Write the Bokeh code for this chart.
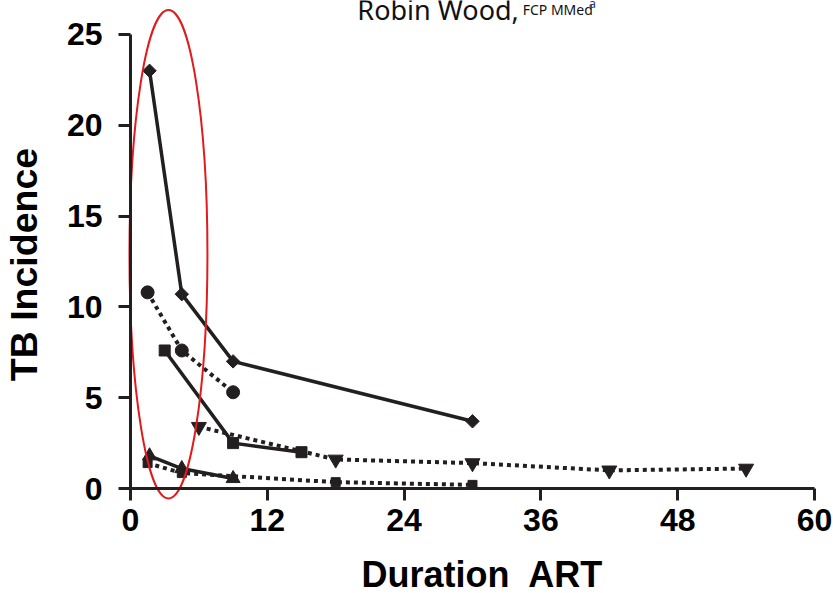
import math
from bokeh.plotting import figure
from bokeh.models import Range1d, Label, FixedTicker
from bokeh.embed import file_html
from bokeh.resources import INLINE

# ---- data ----
dia_x = [1.67, 4.5, 9, 30]
dia_y = [23.0, 10.7, 7.0, 3.7]
cir_x = [1.5, 4.5, 9]
cir_y = [10.8, 7.6, 5.3]
sq_x = [3, 9, 15]
sq_y = [7.6, 2.5, 2.0]
tdn_x = [6, 18, 30, 42, 54]
tdn_y = [3.4, 1.6, 1.4, 1.0, 1.1]
tup_x = [1.67, 4.5, 9]
tup_y = [1.8, 1.1, 0.55]
sqd_x = [1.5, 4.5, 18, 30]
sqd_y = [1.4, 0.85, 0.35, 0.2]

x_ticks = [0, 12, 24, 36, 48, 60]
y_ticks = [0, 5, 10, 15, 20, 25]

x_title = "Duration\u00a0 ART"
y_title = "TB Incidence"

# highlight ellipse (data units)
ell_cx, ell_cy, ell_w, ell_h = 3.33, 12.9, 6.84, 26.9

INK = "#231f20"
RED = "#e3191c"

p = figure(width=833, height=593, output_backend="svg", toolbar_location=None,
           x_range=Range1d(-11.4035, 61.667), y_range=Range1d(-5.78, 26.87),
           min_border_left=0, min_border_right=0, min_border_top=0,
           min_border_bottom=0)
p.outline_line_color = None
p.grid.visible = False
p.background_fill_color = "white"
p.border_fill_color = "white"

for ax in (p.xaxis[0], p.yaxis[0]):
    ax.axis_line_width = 3
    ax.axis_line_color = INK
    ax.major_tick_line_width = 3
    ax.major_tick_line_color = INK
    ax.major_tick_out = 12
    ax.major_tick_in = 0
    ax.minor_tick_line_color = None
    ax.major_label_text_font = "Liberation Sans"
    ax.major_label_text_font_style = "bold"
    ax.major_label_text_font_size = "32px"
    ax.major_label_text_color = "black"

p.xaxis.ticker = FixedTicker(ticks=x_ticks)
p.yaxis.ticker = FixedTicker(ticks=y_ticks)
p.xaxis.bounds = (0, 60)
p.yaxis.bounds = (0, 25)
p.xaxis.fixed_location = 0
p.yaxis.fixed_location = 0
p.xaxis.major_label_standoff = 8
p.yaxis.major_label_standoff = 16

# axis titles
p.add_layout(Label(x=30.88, y=-4.73, text=x_title, text_font="Liberation Sans",
                   text_font_style="bold", text_font_size="36px",
                   text_color="black", text_align="center",
                   text_baseline="alphabetic"))
p.add_layout(Label(x=-9.3, y=12.33, text=y_title, text_font="Liberation Sans",
                   text_font_style="bold", text_font_size="37.5px",
                   text_color="black", text_align="center",
                   text_baseline="middle", angle=math.pi / 2))

# lines
p.line(dia_x, dia_y, line_width=3.5, color=INK)
p.line(cir_x, cir_y, line_width=4, color=INK, line_dash="4 4")
p.line(sq_x, sq_y, line_width=3.5, color=INK)
p.line(tdn_x, tdn_y, line_width=4, color=INK, line_dash="4 4")
p.line(tup_x, tup_y, line_width=3.5, color=INK)
p.line(sqd_x, sqd_y, line_width=4, color=INK, line_dash="4 4")

# markers
p.scatter(dia_x, dia_y, marker="square", size=9.5, angle=0.785398, color=INK)
p.scatter(cir_x, cir_y, marker="circle", size=13, color=INK)
p.scatter(sq_x, sq_y, marker="square", size=11, color=INK)
p.scatter(tdn_x, tdn_y, marker="inverted_triangle", size=15, color=INK)
p.scatter(tup_x, tup_y, marker="triangle", size=14, color=INK)
p.scatter(sqd_x, sqd_y, marker="square", size=9, color=INK)

# red highlight ellipse
p.ellipse(x=[ell_cx], y=[ell_cy], width=ell_w, height=ell_h,
          fill_color=None, line_color=RED, line_width=2)

# cut-off header text
p.add_layout(Label(x=19.9, y=26.4, text="Robin Wood,", text_font="Noto Sans",
                   text_font_size="27px", text_color="#111111",
                   text_baseline="alphabetic"))
p.add_layout(Label(x=34.4, y=26.4, text="FCP MMed", text_font="Noto Sans",
                   text_font_size="14px", text_color="#111111",
                   text_baseline="alphabetic"))
p.add_layout(Label(x=40.2, y=26.75, text="a", text_font="Noto Sans",
                   text_font_size="13px", text_color="#2a3d8f",
                   text_baseline="alphabetic"))

open("out.html", "w").write(file_html(p, INLINE))
